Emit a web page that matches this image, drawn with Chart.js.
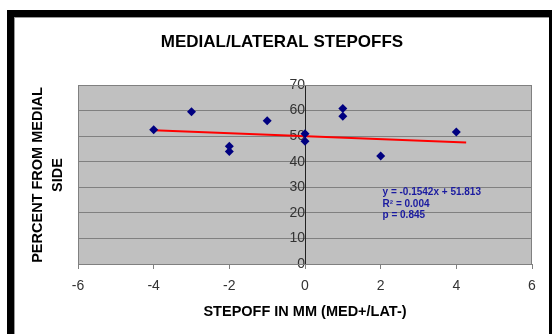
<!DOCTYPE html>
<html lang="en">
<head>
<meta charset="UTF-8">
<title>Medial/Lateral Stepoffs</title>
<script src="https://cdn.jsdelivr.net/npm/chart.js@4"></script>
<style>
  html, body { margin: 0; padding: 0; background: #fff; }
  #wrap { position: relative; width: 552px; height: 334px; overflow: hidden; }
  #frame {
    position: absolute; left: 7px; top: 10px; width: 535px; height: 340px;
    border-left: 7px solid #000; border-top: 7px solid #000; border-right: 3px solid #000;
    box-shadow: inset 1px 1px 0 #999; pointer-events: none;
  }
  canvas { position: absolute; left: 0; top: 0; }
</style>
</head>
<body>
<div id="wrap">
  <canvas id="chart" width="552" height="334"></canvas>
  <div id="frame"></div>
</div>
<script>
// stepoff (mm) and percent from medial side
const stepoffs = [-4, -3, -2, -2, -1, 0, 0, 1, 1, 2, 4];
const percents = [52.5, 59.5, 46, 44, 56, 50.9, 48, 60.8, 57.8, 42.2, 51.6];

// trendline as drawn (end points)
const trendX = [-4, 4.26];
const trendY = [52.3, 47.5];

const xTicks = [-6, -4, -2, 0, 2, 4, 6];
const yTicks = [0, 10, 20, 30, 40, 50, 60, 70];

const fitLines = ['y = -0.1542x + 51.813', 'R\u00B2 = 0.004', 'p = 0.845'];

const FONT = "'Liberation Sans', Arial, sans-serif";

const decor = {
  id: 'decor',
  beforeDraw(chart) {
    const { ctx, chartArea: a } = chart;
    ctx.save();
    ctx.fillStyle = '#c0c0c0';
    ctx.fillRect(a.left, a.top, a.right - a.left, a.bottom - a.top);
    ctx.restore();
  },
  afterDraw(chart) {
    const { ctx, chartArea: a } = chart;
    ctx.save();
    ctx.strokeStyle = '#808080';
    ctx.lineWidth = 1;
    ctx.strokeRect(a.left + 0.5, a.top + 0.5, a.right - a.left - 1, a.bottom - a.top);

    ctx.fillStyle = '#000';
    ctx.textAlign = 'center';
    ctx.textBaseline = 'middle';
    ctx.font = 'bold 17px ' + FONT;
    ctx.fillText('MEDIAL/LATERAL STEPOFFS', 282, 42);

    ctx.font = 'bold 14.5px ' + FONT;
    ctx.fillText('STEPOFF IN MM (MED+/LAT-)', 305, 312);

    ctx.save();
    ctx.translate(38, 175);
    ctx.rotate(-Math.PI / 2);
    ctx.fillText('PERCENT FROM MEDIAL', 0, 0);
    ctx.fillText('SIDE', 0, 20);
    ctx.restore();

    ctx.fillStyle = '#1a1aa0';
    ctx.textAlign = 'left';
    ctx.font = 'bold 10px ' + FONT;
    const x0 = chart.scales.x.getPixelForValue(2.05);
    fitLines.forEach((t, i) => ctx.fillText(t, x0, 192.5 + i * 11.5));
    ctx.restore();
  }
};

new Chart(document.getElementById('chart'), {
  type: 'scatter',
  data: {
    datasets: [
      {
        type: 'line',
        data: trendX.map((x, i) => ({ x, y: trendY[i] })),
        borderColor: '#ff0000',
        borderWidth: 2,
        pointRadius: 0,
        order: 2
      },
      {
        data: stepoffs.map((x, i) => ({ x, y: percents[i] })),
        pointStyle: 'rectRot',
        pointRadius: 4.5,
        backgroundColor: '#000080',
        borderColor: '#000080',
        borderWidth: 0,
        order: 1
      }
    ]
  },
  options: {
    responsive: false,
    animation: false,
    layout: { padding: { left: 78, right: 20, top: 85, bottom: 0 } },
    plugins: { legend: { display: false }, tooltip: { enabled: false } },
    scales: {
      x: {
        type: 'linear',
        min: -6, max: 6,
        afterBuildTicks: s => { s.ticks = xTicks.map(v => ({ value: v })); },
        afterFit: s => { s.height = 70; },
        ticks: { font: { family: FONT, size: 14 }, color: '#333', padding: 9 },
        grid: { drawOnChartArea: false, tickLength: 5, color: '#808080' },
        border: { color: '#808080' }
      },
      y: {
        type: 'linear',
        position: { x: 0 },
        min: 0, max: 70,
        afterBuildTicks: s => { s.ticks = yTicks.map(v => ({ value: v })); },
        ticks: { font: { family: FONT, size: 14 }, color: '#333', padding: 6 },
        grid: { color: '#808080', tickLength: 5 },
        border: { color: '#222' }
      }
    }
  },
  plugins: [decor]
});
</script>
</body>
</html>
